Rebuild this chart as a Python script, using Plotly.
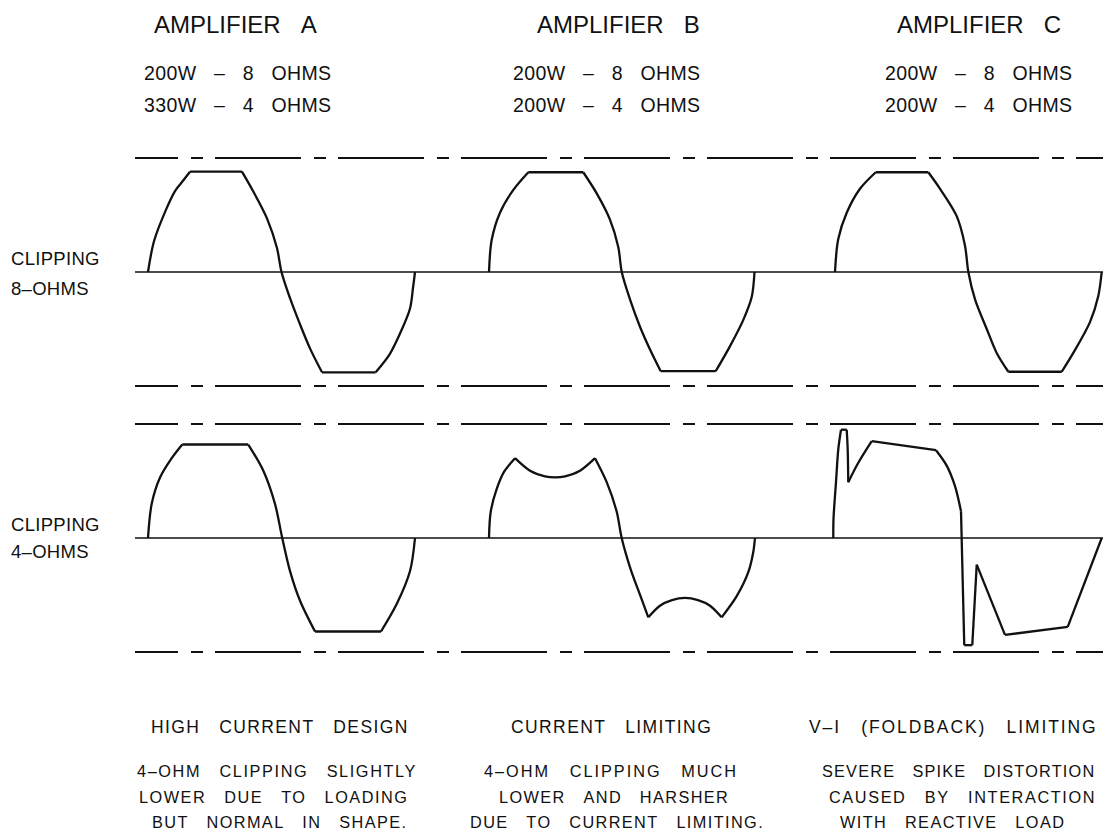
import plotly.graph_objects as go

# ---------------- data ----------------
HEADERS = ["AMPLIFIER A", "AMPLIFIER B", "AMPLIFIER C"]
RATING_8 = ["200W – 8 OHMS", "200W – 8 OHMS", "200W – 8 OHMS"]
RATING_4 = ["330W – 4 OHMS", "200W – 4 OHMS", "200W – 4 OHMS"]
ROW_LABELS = [["CLIPPING", "8–OHMS"], ["CLIPPING", "4–OHMS"]]
TITLES = ["HIGH CURRENT DESIGN", "CURRENT LIMITING", "V–I (FOLDBACK) LIMITING"]
NOTES = [
    ["4–OHM CLIPPING SLIGHTLY", "LOWER DUE TO LOADING", "BUT NORMAL IN SHAPE."],
    ["4–OHM CLIPPING MUCH", "LOWER AND HARSHER", "DUE TO CURRENT LIMITING."],
    ["SEVERE SPIKE DISTORTION", "CAUSED BY INTERACTION", "WITH REACTIVE LOAD"],
]
REF_LEVELS = [1.0, -1.0]  # dashed reference lines

# waveforms: phase (degrees), level (relative to dashed reference), sharp-corner indices
A8_PHASE = [0, 8.1, 25.2, 36.4, 47.2, 56.6, 126.7, 141.6, 160.4, 173.9, 180, 191.5, 205, 218.4, 234.6, 307, 326, 339.8, 353.3, 357.3, 360]
A8_LEVEL = [0, 0.27, 0.56, 0.71, 0.80, 0.88, 0.88, 0.71, 0.47, 0.21, 0, -0.23, -0.46, -0.67, -0.88, -0.88, -0.72, -0.54, -0.32, -0.14, 0]
A8_CORNERS = [5, 6, 14, 15]

B8_PHASE = [0, 3.6, 14.8, 32.8, 53, 127.1, 145.2, 163.1, 174.3, 179, 190.1, 203.6, 217.1, 231.5, 305.7, 325, 342.9, 354.2, 358]
B8_LEVEL = [0, 0.28, 0.52, 0.72, 0.875, 0.875, 0.69, 0.46, 0.22, 0, -0.24, -0.48, -0.68, -0.87, -0.87, -0.65, -0.42, -0.22, 0]
B8_CORNERS = [4, 5, 13, 14]

C8_PHASE = [0, 4.4, 15.8, 33.7, 54.9, 125.8, 141.6, 164.1, 175.3, 179.8, 188.8, 204.6, 218, 233.7, 305.7, 321.3, 343.8, 355, 359.6]
C8_LEVEL = [0, 0.29, 0.52, 0.73, 0.875, 0.875, 0.73, 0.49, 0.23, 0, -0.24, -0.50, -0.71, -0.875, -0.875, -0.71, -0.44, -0.21, 0]
C8_CORNERS = [4, 5, 13, 14]

A4_PHASE = [0, 5, 16.2, 32, 46.2, 135.2, 155.5, 171.2, 181, 191.5, 205, 225.2, 314.2, 335.3, 353.3, 360]
A4_LEVEL = [0, 0.30, 0.53, 0.70, 0.82, 0.82, 0.59, 0.30, 0, -0.29, -0.55, -0.82, -0.82, -0.58, -0.29, 0]
A4_CORNERS = [4, 5, 11, 12]

B4_PHASE = [0, 2.3, 10.4, 20.2, 35.1, 55.3, 75.5, 89, 102.5, 122.7, 142.9, 158.7, 172.2, 178.9, 190.8, 204.3,
            214.8, 230.5, 246.7, 264.3, 281.8, 298, 313.7, 334, 349.6, 356.4, 358.6]
B4_LEVEL = [0, 0.23, 0.43, 0.58, 0.70, 0.59, 0.541, 0.532, 0.541, 0.59, 0.70, 0.49, 0.23, 0, -0.27, -0.51,
            -0.696, -0.594, -0.545, -0.526, -0.545, -0.594, -0.696, -0.51, -0.30, -0.12, 0]
B4_CORNERS = [4, 10, 16, 22]

C4_PHASE = [-2.3, -2.0, 1.35, 4.45, 8.1, 15.8, 17.1, 17.9, 31.4, 49.5, 136.2, 150.6, 161.8, 169.9, 174.3,
            185.1, 191.1, 229.2, 313.8, 359.6]
C4_LEVEL = [0, 0.17, 0.49, 0.78, 0.95, 0.95, 0.78, 0.49, 0.66, 0.85, 0.77, 0.635, 0.455, 0.235, -0.94,
            -0.94, -0.234, -0.85, -0.78, 0]
C4_CORNERS = [4, 5, 7, 9, 10, 13, 14, 15, 16, 17, 18]

WAVES = [  # (row, column, phase, level, corners)
    (0, 0, A8_PHASE, A8_LEVEL, A8_CORNERS),
    (0, 1, B8_PHASE, B8_LEVEL, B8_CORNERS),
    (0, 2, C8_PHASE, C8_LEVEL, C8_CORNERS),
    (1, 0, A4_PHASE, A4_LEVEL, A4_CORNERS),
    (1, 1, B4_PHASE, B4_LEVEL, B4_CORNERS),
    (1, 2, C4_PHASE, C4_LEVEL, C4_CORNERS),
]

# ---------------- layout constants ----------------
W, H = 1103, 834
COL_PX = [(120, 462), (462, 805), (805, 1103)]
START_PX = [148, 489, 835]
DEG_PER_PX = 180 / 133.5
ROW_ZERO_PX = [272, 538]
UNIT_PX = 114
YSPAN = 1.15
LINE_X0_PX = 135
INK = "#111111"
FONT = "Liberation Sans"
DASH = ",".join(["43px", "13px", "12px", "12px"] + ["86px", "13px", "12px", "12px"] * 10)


def split_segments(phase, level, corners):
    cuts = sorted(set([0] + list(corners) + [len(phase) - 1]))
    xs, ys = [], []
    for a, b in zip(cuts[:-1], cuts[1:]):
        xs += list(phase[a:b + 1]) + [None]
        ys += list(level[a:b + 1]) + [None]
    return xs, ys


fig = go.Figure()
xnames = ["x", "x2", "x3"]
ynames = ["y", "y2"]
for r, c, ph, lv, cn in WAVES:
    xs, ys = split_segments(ph, lv, cn)
    fig.add_trace(go.Scatter(
        x=xs, y=ys, mode="lines", connectgaps=False, hoverinfo="skip", showlegend=False,
        line=dict(color=INK, width=2.3, shape="spline", smoothing=0.9),
        xaxis=xnames[c], yaxis=ynames[r]))

layout = dict(
    width=W, height=H, margin=dict(l=0, r=0, t=0, b=0),
    paper_bgcolor="white", plot_bgcolor="rgba(0,0,0,0)", showlegend=False,
)
for c in range(3):
    x0, x1 = COL_PX[c]
    key = "xaxis" if c == 0 else f"xaxis{c + 1}"
    layout[key] = dict(
        domain=[x0 / W, x1 / W],
        range=[(x0 - START_PX[c]) * DEG_PER_PX, (x1 - START_PX[c]) * DEG_PER_PX],
        visible=False, fixedrange=True, anchor="y")
for r in range(2):
    z = ROW_ZERO_PX[r]
    span = YSPAN * UNIT_PX
    key = "yaxis" if r == 0 else "yaxis2"
    layout[key] = dict(
        domain=[1 - (z + span) / H, 1 - (z - span) / H],
        range=[-YSPAN, YSPAN], visible=False, fixedrange=True, anchor="x")

shapes = []
for r in range(2):
    yref = ynames[r]
    shapes.append(dict(type="line", xref="paper", yref=yref, x0=LINE_X0_PX / W, x1=1, y0=0, y1=0,
                       line=dict(color=INK, width=1.7)))
    for lvl in REF_LEVELS:
        shapes.append(dict(type="line", xref="paper", yref=yref, x0=LINE_X0_PX / W, x1=1, y0=lvl, y1=lvl,
                           line=dict(color=INK, width=2, dash=DASH)))
layout["shapes"] = shapes


def txt(s, x_px, y_px, size, spacing=0.0, gap=1, anchor="center"):
    s = s.replace(" ", "\u00a0" * gap)
    if spacing:
        s = f'<span style="letter-spacing:{spacing}px">{s}</span>'
    return dict(text=s, x=x_px / W, y=1 - y_px / H, xref="paper", yref="paper",
                xanchor=anchor, yanchor="middle", showarrow=False,
                font=dict(family=FONT, size=size, color=INK))


ann = []
HEAD_X = [235, 618, 979]
RATE_X = [238, 607, 979]
TITLE_X = [280, 611, 953]
TITLE_SP = [1.4, 1.4, 1.9]
TITLE_Y = 727
NOTE_Y = [771, 797, 822]
NOTE_X = [[277, 273, 279], [611, 614, 617], [958, 962, 952]]
NOTE_SP = [[1.6, 1.5, 1.4], [2.0, 1.4, 1.4], [1.2, 1.6, 1.4]]
for c in range(3):
    ann.append(txt(HEADERS[c], HEAD_X[c], 24, 24, gap=3))
    ann.append(txt(RATING_8[c], RATE_X[c], 72.5, 19.5, spacing=0.4, gap=3))
    ann.append(txt(RATING_4[c], RATE_X[c], 105, 19.5, spacing=0.4, gap=3))
    ann.append(txt(TITLES[c], TITLE_X[c], TITLE_Y, 17.5, spacing=TITLE_SP[c], gap=3))
    for i, line in enumerate(NOTES[c]):
        ann.append(txt(line, NOTE_X[c][i], NOTE_Y[i], 16.3, spacing=NOTE_SP[c][i], gap=3))
LABEL_Y = [[258, 288], [524, 551]]
for r in range(2):
    for i in range(2):
        ann.append(txt(ROW_LABELS[r][i], 9, LABEL_Y[r][i], 18.5, spacing=0.3, anchor="left"))
layout["annotations"] = ann

fig.update_layout(**layout)
fig.write_html(
    "out.html",
    config={"displayModeBar": False, "staticPlot": True},
    post_script="document.documentElement.style.margin='0';document.body.style.margin='0';"
                "document.body.style.padding='0';document.body.style.overflow='hidden';",
)
